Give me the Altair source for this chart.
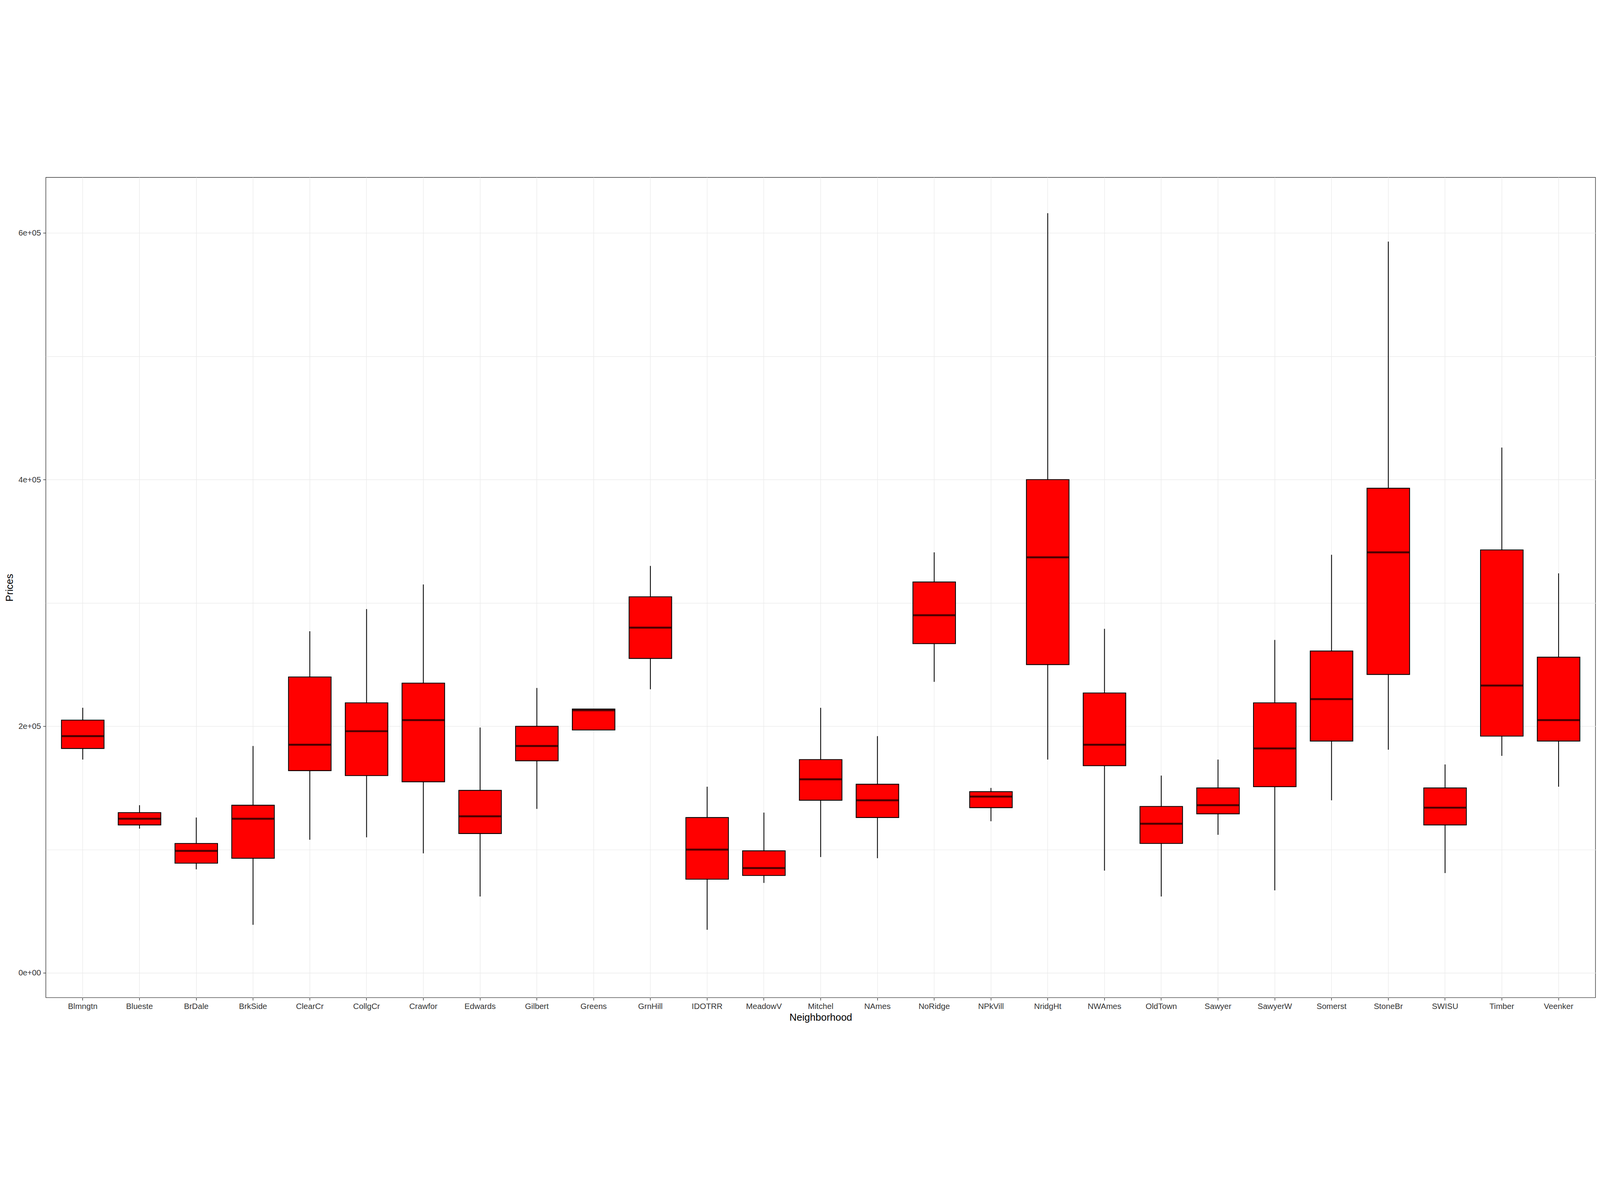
import altair as alt
import pandas as pd

hoods = ["Blmngtn","Blueste","BrDale","BrkSide","ClearCr","CollgCr","Crawfor","Edwards","Gilbert","Greens",
         "GrnHill","IDOTRR","MeadowV","Mitchel","NAmes","NoRidge","NPkVill","NridgHt","NWAmes","OldTown",
         "Sawyer","SawyerW","Somerst","StoneBr","SWISU","Timber","Veenker"]
low  = [173000,117000,84000,39000,108000,110000,97000,62000,133000,197000,230000,35000,73000,94000,93000,236000,123000,173000,83000,62000,112000,67000,140000,181000,81000,176000,151000]
q1   = [182000,120000,89000,93000,164000,160000,155000,113000,172000,197000,255000,76000,79000,140000,126000,267000,134000,250000,168000,105000,129000,151000,188000,242000,120000,192000,188000]
med  = [192000,125000,99000,125000,185000,196000,205000,127000,184000,213000,280000,100000,85000,157000,140000,290000,143000,337000,185000,121000,136000,182000,222000,341000,134000,233000,205000]
q3   = [205000,130000,105000,136000,240000,219000,235000,148000,200000,214000,305000,126000,99000,173000,153000,317000,147000,400000,227000,135000,150000,219000,261000,393000,150000,343000,256000]
high = [215000,136000,126000,184000,277000,295000,315000,199000,231000,214000,330000,151000,130000,215000,192000,341000,150000,616000,279000,160000,173000,270000,339000,593000,169000,426000,324000]

df = pd.DataFrame(dict(h=hoods, low=low, q1=q1, med=med, q3=q3, high=high))

x = alt.X("h:N", sort=hoods, title="Neighborhood",
          scale=alt.Scale(paddingInner=0, paddingOuter=0.15),
          axis=alt.Axis(labelAngle=0, labelFontSize=29, titleFontSize=36, labelColor="#333333",
                        titleColor="black", titleFontWeight="normal", grid=True, bandPosition=0.5,
                        gridColor="#ebebeb", gridWidth=2, tickColor="#333333",
                        tickSize=10, tickWidth=2, domain=False, labelPadding=8, titlePadding=8))
yscale = alt.Scale(domain=[-20000, 645000], nice=False, zero=False)
yax = alt.Axis(values=[0,100000,200000,300000,400000,500000,600000],
               labelExpr="datum.value % 200000 == 0 ? replace(format(datum.value,'.0e'),'+','+0') : ''",
               labelFontSize=29, titleFontSize=36, labelColor="#333333", titleColor="black",
               titleFontWeight="normal",
               gridColor="#ebebeb", gridWidth=2, tickColor="#333333", tickSize=10, tickWidth=2,
               tickOpacity={"condition": {"test": "datum.value % 200000 != 0", "value": 0}, "value": 1},
               domain=False, labelPadding=8, titlePadding=12)

base = alt.Chart(df)
whisk = base.mark_rule(color="black", strokeWidth=3).encode(
    x=x, y=alt.Y("low:Q", scale=yscale, axis=yax, title="Prices"), y2="high:Q")
box = base.mark_bar(color="#ff0000", stroke="black", strokeWidth=3,
                    width=alt.RelativeBandSize(0.75)).encode(x=x, y="q1:Q", y2="q3:Q")
medl = base.mark_tick(color="black", thickness=7, size=154).encode(x=x, y="med:Q")

chart = alt.layer(whisk, box, medl).properties(
    width=5744, height=3056,
    autosize=alt.AutoSizeParams(type="fit", contains="padding"),
    background="white"
).configure_view(stroke="#333333", strokeWidth=2).configure_axis(labelFont="Liberation Sans", titleFont="Liberation Sans")

chart.save("out.html", embed_options={"renderer": "svg", "actions": False})
